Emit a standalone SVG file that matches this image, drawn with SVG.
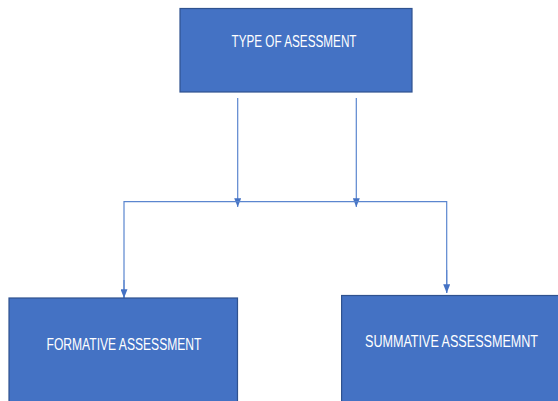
<svg xmlns="http://www.w3.org/2000/svg" width="558" height="401" viewBox="0 0 558 401">
  <style>
    .box { fill: #4472C4; stroke: #2F528F; stroke-width: 1.2; }
    .label { fill: #FFFFFF; font-family: "Liberation Sans", Arial, sans-serif; font-size: 16px; text-anchor: middle; }
    .wire { fill: none; stroke: #5B86CF; stroke-width: 1.2; }
  </style>
  <defs>
    <marker id="arrow" viewBox="0 0 10 8" refX="10" refY="4" markerWidth="9" markerHeight="7" markerUnits="userSpaceOnUse" orient="auto">
      <path d="M0,0 L10,4 L0,8 Z" fill="#4472C4"/>
    </marker>
  </defs>
  <rect width="558" height="401" fill="#FFFFFF"/>

  <g id="connectors">
    <line class="wire" x1="237.7" y1="98" x2="237.7" y2="207" marker-end="url(#arrow)"/>
    <line class="wire" x1="356.3" y1="98" x2="356.3" y2="207" marker-end="url(#arrow)"/>
    <polyline class="wire" points="124,298 124,201.7 446.7,201.7 446.7,293"/>
    <line class="wire" x1="124" y1="280" x2="124" y2="298" marker-end="url(#arrow)"/>
    <line class="wire" x1="446.7" y1="270" x2="446.7" y2="293" marker-end="url(#arrow)"/>
  </g>

  <g id="type-of-assessment">
    <rect class="box" x="180" y="8.5" width="232" height="83.5"/>
    <text class="label" x="294" y="47" textLength="125" lengthAdjust="spacingAndGlyphs">TYPE OF ASESSMENT</text>
  </g>

  <g id="formative-assessment">
    <rect class="box" x="9" y="298" width="228.5" height="110"/>
    <text class="label" x="124" y="350" textLength="155" lengthAdjust="spacingAndGlyphs">FORMATIVE ASSESSMENT</text>
  </g>

  <g id="summative-assessment">
    <rect class="box" x="341.6" y="295.5" width="218" height="110"/>
    <text class="label" x="451.5" y="347" textLength="173" lengthAdjust="spacingAndGlyphs">SUMMATIVE ASSESSMEMNT</text>
  </g>
</svg>
